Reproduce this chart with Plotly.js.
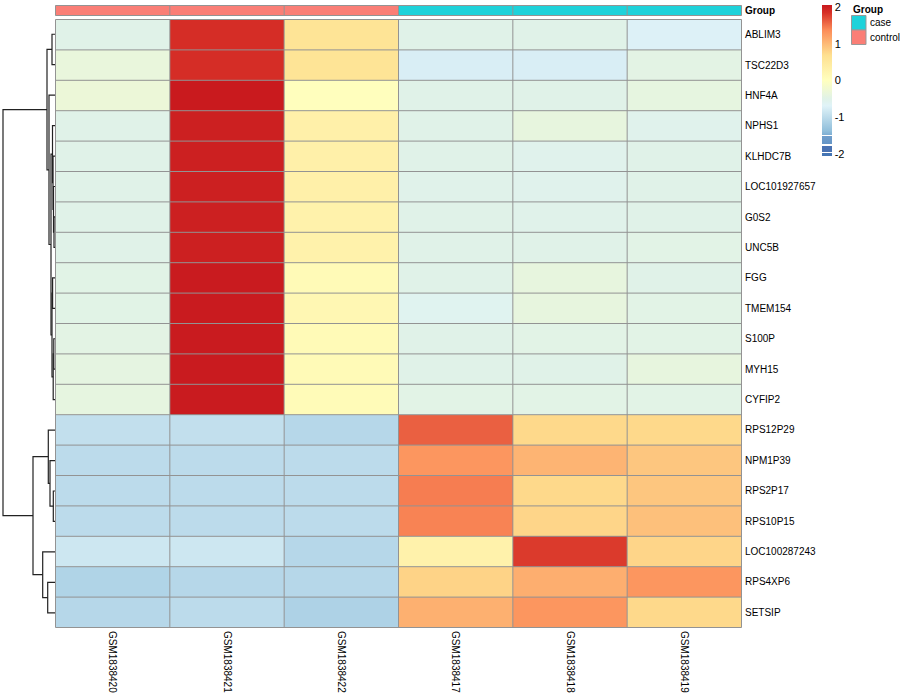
<!DOCTYPE html>
<html><head><meta charset="utf-8">
<script src="https://cdn.plot.ly/plotly-3.0.1.min.js"></script>
<style>html,body{margin:0;padding:0;background:#fff}#chart{width:900px;height:700px}</style>
</head><body><div id="chart"></div>
<script>
// ---------- DATA ----------
const samples = ['GSM1838420','GSM1838421','GSM1838422','GSM1838417','GSM1838418','GSM1838419'];
const groups  = ['control','control','control','case','case','case'];
const genes = ['ABLIM3','TSC22D3','HNF4A','NPHS1','KLHDC7B','LOC101927657','G0S2','UNC5B','FGG','TMEM154','S100P','MYH15','CYFIP2','RPS12P29','NPM1P39','RPS2P17','RPS10P15','LOC100287243','RPS4XP6','SETSIP'];
// row-scaled expression, one array per sample (gene order above)
const GSM1838420 = [-0.50,-0.35,-0.30,-0.50,-0.50,-0.50,-0.50,-0.50,-0.48,-0.48,-0.45,-0.42,-0.40,-0.95,-1.00,-1.00,-1.00,-0.85,-1.10,-1.05];
const GSM1838421 = [ 1.88, 1.88, 2.05, 2.00, 2.00, 2.00, 2.00, 2.00, 2.04, 2.04, 2.04, 2.04, 2.04,-0.95,-1.00,-1.00,-1.00,-0.85,-1.05,-1.00];
const GSM1838422 = [ 0.60, 0.60, 0.03, 0.33, 0.33, 0.33, 0.30, 0.30, 0.12, 0.18, 0.12, 0.12, 0.10,-1.05,-1.00,-1.00,-1.00,-1.05,-1.05,-1.12];
const GSM1838417 = [-0.50,-0.75,-0.50,-0.50,-0.50,-0.52,-0.50,-0.50,-0.50,-0.60,-0.50,-0.50,-0.47, 1.60, 1.30, 1.45, 1.42, 0.30, 0.80, 1.08];
const GSM1838418 = [-0.50,-0.75,-0.50,-0.38,-0.55,-0.55,-0.52,-0.50,-0.38,-0.38,-0.47,-0.50,-0.47, 0.75, 1.05, 0.75, 0.78, 1.80, 1.10, 1.30];
const GSM1838419 = [-0.72,-0.45,-0.40,-0.55,-0.50,-0.50,-0.50,-0.47,-0.50,-0.47,-0.47,-0.38,-0.47, 0.75, 0.90, 0.90, 0.95, 0.78, 1.30, 0.75];
// row dendrogram merges: [left, right, height]; negative = leaf (-(index+1)), positive = earlier merge (1-based)
const rowMerges = [
  [-7,-8,1.0],[-6,1,1.5],[-5,2,2.0],[-4,3,2.5],
  [-11,-12,1.2],[5,-13,1.8],[-9,-10,2.4],[7,6,3.0],
  [4,8,4.0],[-3,9,6.0],[-1,-2,3.0],[11,10,8.0],
  [-16,-17,1.7],[-15,13,5.0],[-14,14,6.7],[-19,-20,7.3],[-18,16,12.3],[15,17,22.0],
  [12,18,52.0]
];
const colorTicks = [-2,-1,0,1,2];
const colorTickText = ['-2','-1','0','1','2'];
const zRange = [-2.06, 2.06];

// ---------- STYLE ----------
const FONT = 'Liberation Sans, Arial, Helvetica, sans-serif';
const groupColors = {case:'#1ED2DA', control:'#FA7E76'};
const gridColor = '#939393';
const W = 900, H = 700;
const px = v => v / W, py = v => 1 - v / H;
const hmX = [55, 742], hmY = [19, 628], annY = [5, 16];

// colour scale (value -> colour), converted to fractions of zRange
const stops = [
  [-2.06,'#4575B4'],[-1.99,'#4575B4'],[-1.99,'#ffffff'],[-1.96,'#ffffff'],[-1.96,'#4A72B2'],
  [-1.78,'#4A72B2'],[-1.78,'#ffffff'],[-1.74,'#ffffff'],[-1.74,'#6595C6'],[-1.52,'#6F9DCB'],
  [-1.52,'#ffffff'],[-1.48,'#ffffff'],[-1.48,'#7FAFD4'],
  [-1.37,'#91BFDB'],[-0.69,'#E0F3F8'],[-0.5,'#E0F2E8'],[0,'#FFFFBF'],[0.69,'#FEE090'],[1.37,'#FC8D59'],[1.85,'#D73027'],[2.06,'#C8191E']
];
const cs = stops.map(s => [(s[0]-zRange[0])/(zRange[1]-zRange[0]), s[1]]);

const cols = [GSM1838420,GSM1838421,GSM1838422,GSM1838417,GSM1838418,GSM1838419];
const z = genes.map((g,i) => cols.map(c => c[i]));

// ---------- DENDROGRAM ----------
const nodeY = [], nodeH = [];
function pos(ref){ return ref < 0 ? [0, -ref-1] : [nodeH[ref-1], nodeY[ref-1]]; }
const dx = [], dy = [];
rowMerges.forEach(m => {
  const [h1,y1] = pos(m[0]); const [h2,y2] = pos(m[1]);
  dx.push(h1, m[2], m[2], h2, null); dy.push(y1, y1, y2, y2, null);
  nodeH.push(m[2]); nodeY.push((y1+y2)/2);
});

// ---------- GRID SHAPES ----------
const shapes = [];
const nR = genes.length, nC = samples.length;
for (let i = 0; i <= nC; i++) {
  shapes.push({type:'line', xref:'x', yref:'y', x0:i-0.5, x1:i-0.5, y0:-0.5, y1:nR-0.5, line:{color:gridColor,width:1}});
  shapes.push({type:'line', xref:'x', yref:'y2', x0:i-0.5, x1:i-0.5, y0:-0.5, y1:0.5, line:{color:gridColor,width:1}});
}
for (let j = 0; j <= nR; j++) {
  shapes.push({type:'line', xref:'x', yref:'y', x0:-0.5, x1:nC-0.5, y0:j-0.5, y1:j-0.5, line:{color:gridColor,width:1}});
}
[-0.5,0.5].forEach(v => shapes.push({type:'line', xref:'x', yref:'y2', x0:-0.5, x1:nC-0.5, y0:v, y1:v, line:{color:gridColor,width:1}}));

// group legend (layout element)
const levels = [...new Set(groups)].sort();
const annotations = [{xref:'paper', yref:'paper', x:px(851), y:py(10), xanchor:'left', yanchor:'middle', text:'<b>Group</b>', showarrow:false, font:{family:FONT,size:10,color:'#000'}}];
levels.forEach((lv,k) => {
  const top = 15.5 + k*14.5;
  shapes.push({type:'rect', xref:'paper', yref:'paper', x0:px(851.5), x1:px(866), y0:py(top), y1:py(top+14.5), fillcolor:groupColors[lv], line:{color:'#999',width:1}});
  annotations.push({xref:'paper', yref:'paper', x:px(868), y:py(top+7.5), xanchor:'left', yanchor:'middle', text:lv, showarrow:false, font:{family:FONT,size:10,color:'#000'}});
});

const traces = [
  {type:'heatmap', x:samples, y:genes, z:z, xaxis:'x', yaxis:'y', colorscale:cs, zmin:zRange[0], zmax:zRange[1],
   hoverinfo:'skip',
   colorbar:{x:px(822), xanchor:'left', y:py(5), yanchor:'top', len:151, lenmode:'pixels', thickness:10, thicknessmode:'pixels',
     outlinewidth:0, xpad:0, ypad:0, tickmode:'array', tickvals:colorTicks, ticktext:colorTickText, ticks:'', tickfont:{family:FONT,size:11,color:'#000'}}},
  {type:'heatmap', x:samples, y:['Group'], z:[groups.map(g => levels.indexOf(g))], xaxis:'x', yaxis:'y2',
   colorscale:[[0,groupColors[levels[0]]],[0.5,groupColors[levels[0]]],[0.5,groupColors[levels[1]]],[1,groupColors[levels[1]]]],
   zmin:0, zmax:1, showscale:false, hoverinfo:'skip'},
  {type:'scatter', mode:'lines', x:dx, y:dy, xaxis:'x3', yaxis:'y3', line:{color:'#222',width:1.2}, hoverinfo:'skip', showlegend:false}
];

const layout = {
  width:W, height:H, margin:{l:0,r:0,t:0,b:0}, paper_bgcolor:'#fff', plot_bgcolor:'#fff', showlegend:false,
  font:{family:FONT, size:10, color:'#000'},
  xaxis:{domain:[px(hmX[0]),px(hmX[1])], anchor:'y', showgrid:false, zeroline:false, showline:false, ticks:'', tickangle:90,
         ticklabelstandoff:2, tickfont:{family:FONT,size:10,color:'#000'}, fixedrange:true},
  yaxis:{domain:[py(hmY[1]),py(hmY[0])], anchor:'x', side:'right', autorange:'reversed', showgrid:false, zeroline:false, showline:false, ticks:'',
         ticklabelstandoff:2, tickfont:{family:FONT,size:10,color:'#000'}, fixedrange:true},
  yaxis2:{domain:[py(annY[1]),py(annY[0])], anchor:'x', side:'right', showgrid:false, zeroline:false, showline:false, ticks:'',
         ticklabelstandoff:2, tickvals:['Group'], ticktext:['<b>Group</b>'], tickfont:{family:FONT,size:10,color:'#000'}, fixedrange:true},
  xaxis3:{domain:[0,px(hmX[0])], anchor:'y3', range:[55,0], visible:false, fixedrange:true},
  yaxis3:{domain:[py(hmY[1]),py(hmY[0])], anchor:'x3', range:[nR-0.5,-0.5], visible:false, fixedrange:true},
  shapes:shapes, annotations:annotations
};
Plotly.newPlot('chart', traces, layout, {displayModeBar:false, staticPlot:true});
</script></body></html>
